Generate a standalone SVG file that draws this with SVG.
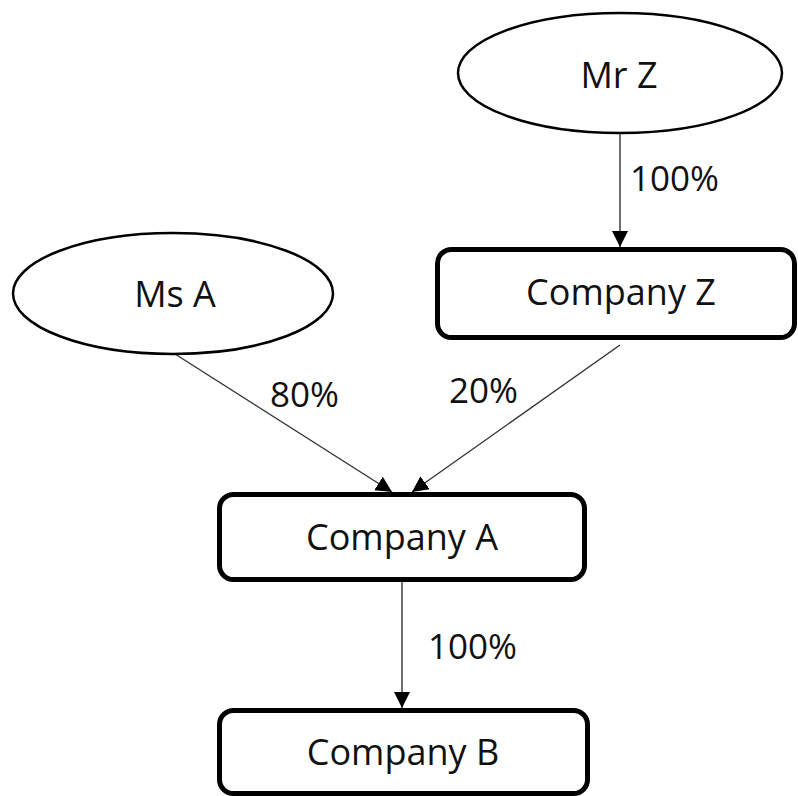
<svg xmlns="http://www.w3.org/2000/svg" width="798" height="796" viewBox="0 0 798 796">
<defs>
<style>
.node{fill:#fff;stroke:#000;}
.ell{stroke-width:2.5;}
.box{stroke-width:5;}
.t{font-family:"Open Sans","Noto Sans",sans-serif;font-size:36px;fill:#111;text-anchor:middle;}
.lbl{font-family:"Open Sans","Noto Sans",sans-serif;font-size:35px;fill:#111;}
.edge{stroke:#333;stroke-width:1.4;fill:none;marker-end:url(#arr);}
</style>
<marker id="arr" viewBox="0 0 10 10" refX="10" refY="5" markerWidth="16" markerHeight="17" markerUnits="userSpaceOnUse" orient="auto">
<path d="M0,0 L10,5 L0,10 z" fill="#000"/>
</marker>
</defs>
<rect width="798" height="796" fill="#fff"/>
<g id="connectors">
<line class="edge" x1="620" y1="133" x2="620" y2="247"/>
<line class="edge" x1="175" y1="354" x2="392" y2="492"/>
<line class="edge" x1="620" y1="345" x2="412" y2="492"/>
<line class="edge" x1="402" y1="582" x2="402" y2="708"/>
</g>
<g id="node-mrz">
<ellipse class="node ell" cx="620" cy="73" rx="162" ry="60"/>
<text class="t" x="619" y="88">Mr Z</text>
</g>
<g id="node-msa">
<ellipse class="node ell" cx="173" cy="293.5" rx="160" ry="60.5"/>
<text class="t" x="175" y="307">Ms A</text>
</g>
<g id="node-companyz">
<rect class="node box" x="437.5" y="249.5" width="357" height="88" rx="14"/>
<text class="t" x="621" y="305">Company Z</text>
</g>
<g id="node-companya">
<rect class="node box" x="219.5" y="494.5" width="365" height="85" rx="14"/>
<text class="t" x="402" y="550">Company A</text>
</g>
<g id="node-companyb">
<rect class="node box" x="219.5" y="710.5" width="368" height="83" rx="14"/>
<text class="t" x="403" y="765">Company B</text>
</g>
<g id="labels">
<text class="lbl" x="630" y="191">100%</text>
<text class="lbl" x="270" y="407">80%</text>
<text class="lbl" x="449" y="403">20%</text>
<text class="lbl" x="428" y="659">100%</text>
</g>
</svg>
